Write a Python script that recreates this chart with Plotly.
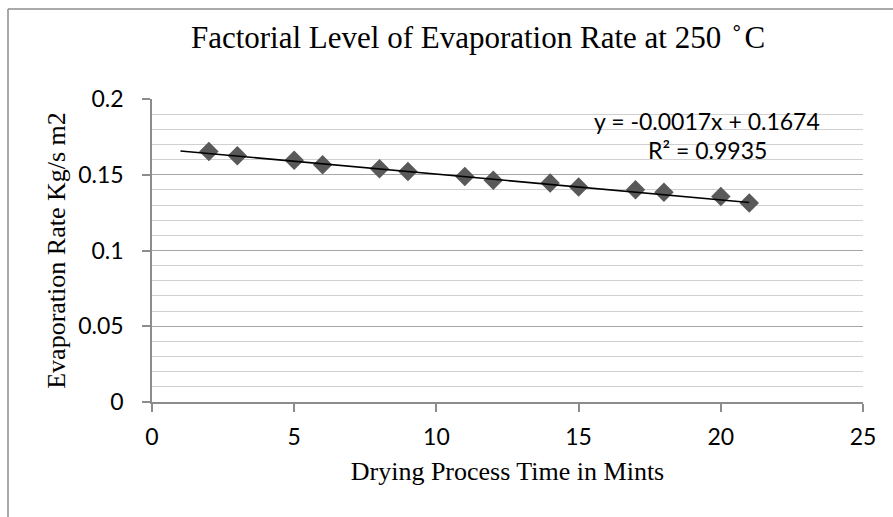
import plotly.graph_objects as go

# Data
time_min = [2, 3, 5, 6, 8, 9, 11, 12, 14, 15, 17, 18, 20, 21]
evap_rate = [0.1654, 0.1626, 0.1595, 0.1566, 0.1540, 0.1522, 0.1489, 0.1463,
             0.1446, 0.1419, 0.1401, 0.1384, 0.1357, 0.1314]
trend_slope = -0.0017
trend_intercept = 0.1674
trend_x = [1, 21]
x_ticks = [0, 5, 10, 15, 20, 25]
y_ticks = [0, 0.05, 0.1, 0.15, 0.2]
y_tick_labels = ["0", "0.05", "0.1", "0.15", "0.2"]

trend_y = [trend_slope * x + trend_intercept for x in trend_x]

serif = "Liberation Serif, Times New Roman, serif"
sans = "Lato, Open Sans, Liberation Sans, sans-serif"

W, H = 893, 517
l, r, t, b = 152, 30, 99, 115
pw, ph = W - l - r, H - t - b


def px_to_paper(px, py):
    return (px - l) / pw, (H - b - py) / ph


fig = go.Figure()
fig.add_trace(go.Scatter(
    x=time_min, y=evap_rate, mode="markers",
    marker=dict(symbol="diamond", size=15, color="#595959",
                line=dict(width=0)),
    showlegend=False, hoverinfo="x+y"))
fig.add_trace(go.Scatter(
    x=trend_x, y=trend_y, mode="lines",
    line=dict(color="black", width=1.6),
    showlegend=False))

fig.update_layout(
    width=W, height=H,
    margin=dict(l=l, r=r, t=t, b=b),
    paper_bgcolor="white", plot_bgcolor="white",
    title=dict(text="Factorial Level of Evaporation Rate at 250\u00a0\u00a0\u030a\u00a0C",
               font=dict(family=serif, size=31, color="black"),
               x=(478 / W), xanchor="center", y=1 - 37 / H, yanchor="middle"),
    xaxis=dict(range=[0, 25], tickvals=x_ticks, showgrid=False,
               showline=True, linecolor="#8c8c8c", linewidth=1.5,
               ticks="outside", ticklen=8, tickcolor="#8c8c8c", tickwidth=1.5,
               ticklabelstandoff=6,
               tickfont=dict(family=sans, size=23, color="black"),
               title=dict(text="Drying Process Time in Mints",
                          font=dict(family=serif, size=26, color="black"),
                          standoff=12),
               zeroline=False, fixedrange=True),
    yaxis=dict(range=[0, 0.2], tickvals=y_ticks, ticktext=y_tick_labels,
               showgrid=True, gridcolor="#a6a6a6", gridwidth=1.2,
               minor=dict(dtick=0.01, showgrid=True, gridcolor="#d0d0d0",
                          gridwidth=1.2, ticks=""),
               showline=True, linecolor="#8c8c8c", linewidth=1.5,
               ticks="outside", ticklen=8, tickcolor="#8c8c8c", tickwidth=1.5,
               ticklabelstandoff=14,
               tickfont=dict(family=sans, size=23, color="black"),
               title=dict(text="Evaporation Rate Kg/s m2",
                          font=dict(family=serif, size=26, color="black"),
                          standoff=5),
               zeroline=False, fixedrange=True),
)

ax1, ay1 = px_to_paper(707, 121)
ax2, ay2 = px_to_paper(707, 150)
fig.add_annotation(text="y = -0.0017x + 0.1674", x=ax1, y=ay1, xref="paper",
                   yref="paper", showarrow=False, xanchor="center", yanchor="middle",
                   font=dict(family=sans, size=23, color="black"))
fig.add_annotation(text="R\u00b2 = 0.9935", x=ax2, y=ay2, xref="paper",
                   yref="paper", showarrow=False, xanchor="center", yanchor="middle",
                   font=dict(family=sans, size=23, color="black"))

# Outer chart frame (top and left edges visible)
fx0, fy0 = px_to_paper(8, 9)
fx1, fy1 = px_to_paper(900, 525)
fig.add_shape(type="line", xref="paper", yref="paper", x0=fx0, x1=fx1,
              y0=fy0, y1=fy0, line=dict(color="#8c8c8c", width=1.5))
fig.add_shape(type="line", xref="paper", yref="paper", x0=fx0, x1=fx0,
              y0=fy0, y1=fy1, line=dict(color="#8c8c8c", width=1.5))

fig.write_html("out.html")
